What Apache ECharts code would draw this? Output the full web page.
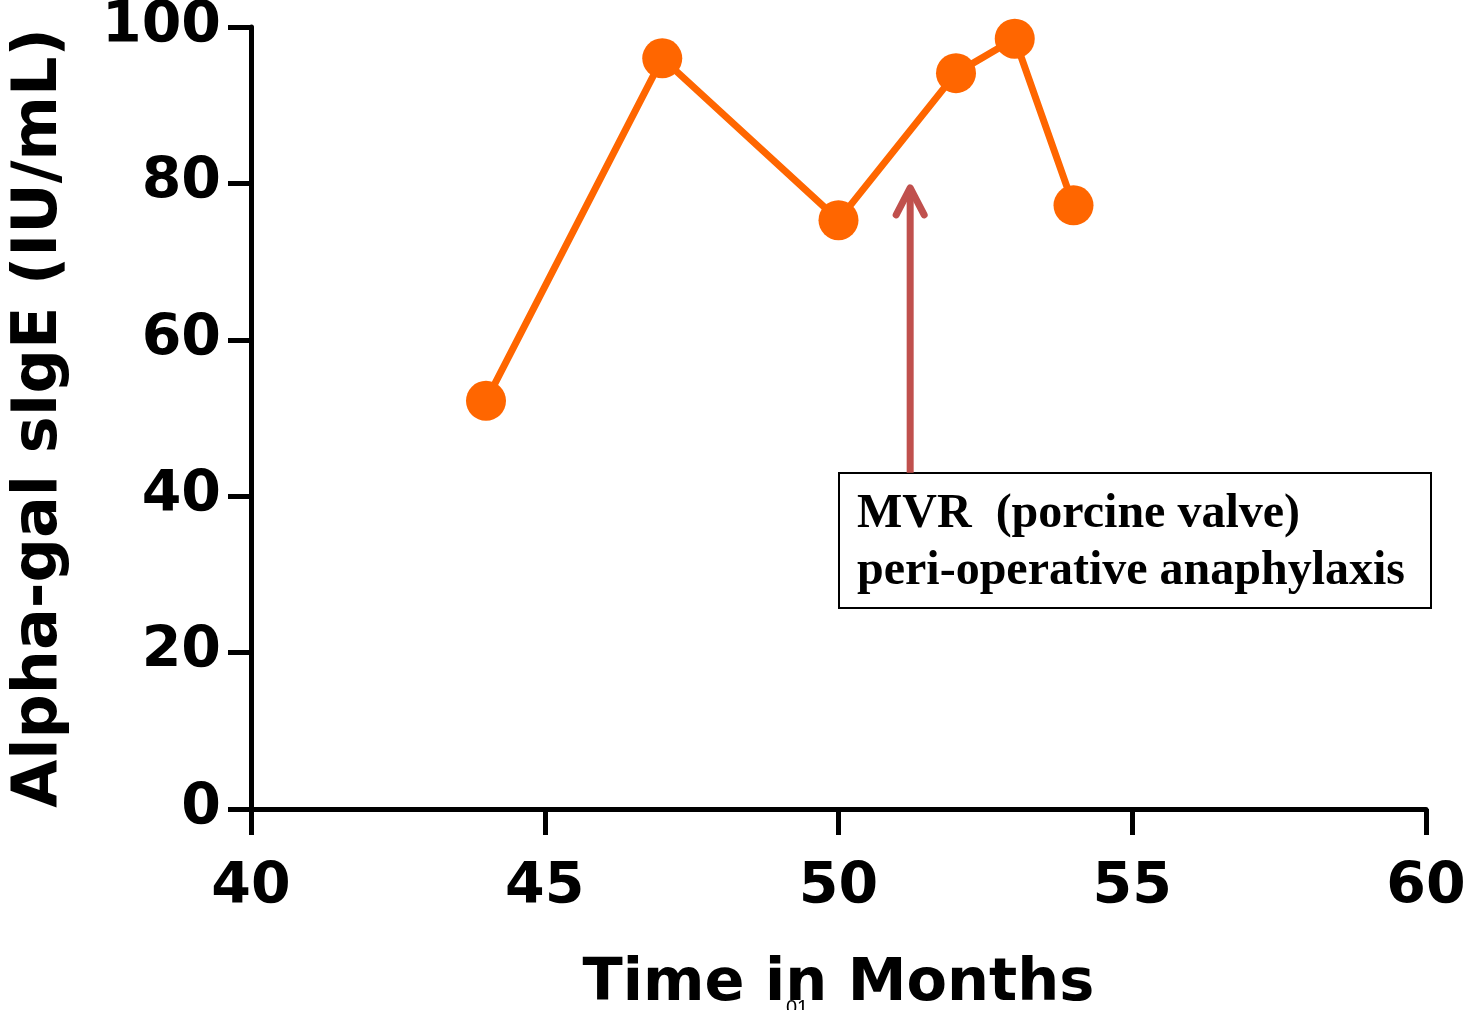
<!DOCTYPE html>
<html><head><meta charset="utf-8">
<script src="https://cdn.jsdelivr.net/npm/echarts@6/dist/echarts.min.js"></script>
<style>html,body{margin:0;padding:0;background:#fff}#c{width:1470px;height:1010px}</style>
</head><body><div id="c"></div>
<script>
const months = [44, 47, 50, 52, 53, 54];
const sIgE = [52.2, 96.0, 75.3, 94.1, 98.5, 77.2];
const xTicks = [40, 45, 50, 55, 60];
const yTicks = [0, 20, 40, 60, 80, 100];
const arrowX = 51.22, arrowFrom = 43.0, arrowTo = 79.8;
const noteLines = ['MVR  (porcine valve)', 'peri-operative anaphylaxis'];

const chart = echarts.init(document.getElementById('c'));
const FONT = 'DejaVu Sans';
chart.setOption({
  animation: false,
  backgroundColor: '#fff',
  grid: {left: 251, right: 44, top: 27, bottom: 201, outerBoundsMode: 'none', containLabel: false},
  xAxis: {
    type: 'value', min: xTicks[0], max: xTicks[xTicks.length-1], interval: 5,
    name: 'Time in Months', nameLocation: 'middle', nameGap: 146,
    nameTextStyle: {fontFamily: FONT, fontWeight: 'bold', fontSize: 59, color: '#000'},
    axisLine: {lineStyle: {color: '#000', width: 5}},
    axisTick: {show: true, length: 26, lineStyle: {color: '#000', width: 5}},
    axisLabel: {fontFamily: FONT, fontWeight: 'bold', fontSize: 57, color: '#000', margin: 51},
    splitLine: {show: false}
  },
  yAxis: {
    type: 'value', min: yTicks[0], max: yTicks[yTicks.length-1], interval: 20,
    name: 'Alpha-gal sIgE (IU/mL)', nameLocation: 'middle', nameGap: 180,
    nameTextStyle: {fontFamily: FONT, fontWeight: 'bold', fontSize: 62, color: '#000'},
    axisLine: {show: true, lineStyle: {color: '#000', width: 5}},
    axisTick: {show: true, length: 23, lineStyle: {color: '#000', width: 5}},
    axisLabel: {fontFamily: FONT, fontWeight: 'bold', fontSize: 57, color: '#000', margin: 30},
    splitLine: {show: false}
  },
  series: [
    {
      type: 'line', data: months.map((m, i) => [m, sIgE[i]]),
      symbol: 'circle', symbolSize: 40,
      lineStyle: {color: '#FF6600', width: 7},
      itemStyle: {color: '#FF6600'},
      z: 3
    },
    {
      type: 'custom', clip: false, z: 2,
      data: [[arrowX, arrowFrom, arrowTo]],
      renderItem: function (params, api) {
        const p0 = api.coord([api.value(0), api.value(1)]);
        const p1 = api.coord([api.value(0), api.value(2)]);
        const st = {stroke: '#C0504D', lineWidth: 7, fill: null, lineCap: 'round', lineJoin: 'round'};
        return {type: 'group', children: [
          {type: 'line', shape: {x1: p0[0], y1: p0[1], x2: p1[0], y2: p1[1] + 3}, style: Object.assign({}, st, {lineCap: 'butt'})},
          {type: 'polyline', shape: {points: [[p1[0] - 14, p1[1] + 30], [p1[0], p1[1] + 3], [p1[0] + 14, p1[1] + 30]]}, style: st}
        ]};
      }
    }
  ],
  graphic: [
    {type: 'rect', left: 838, top: 472, shape: {width: 592, height: 135},
     style: {fill: '#fff', stroke: '#000', lineWidth: 2}},
    {type: 'text', left: 857, top: 486,
     style: {text: noteLines.join('\n'), font: 'bold 48px "Liberation Serif", "Times New Roman", serif', lineHeight: 57, fill: '#000'}},
    {type: 'text', left: 786, top: 998, style: {text: '01', font: '20px "Liberation Sans", sans-serif', fill: '#000'}}
  ]
});
</script></body></html>
